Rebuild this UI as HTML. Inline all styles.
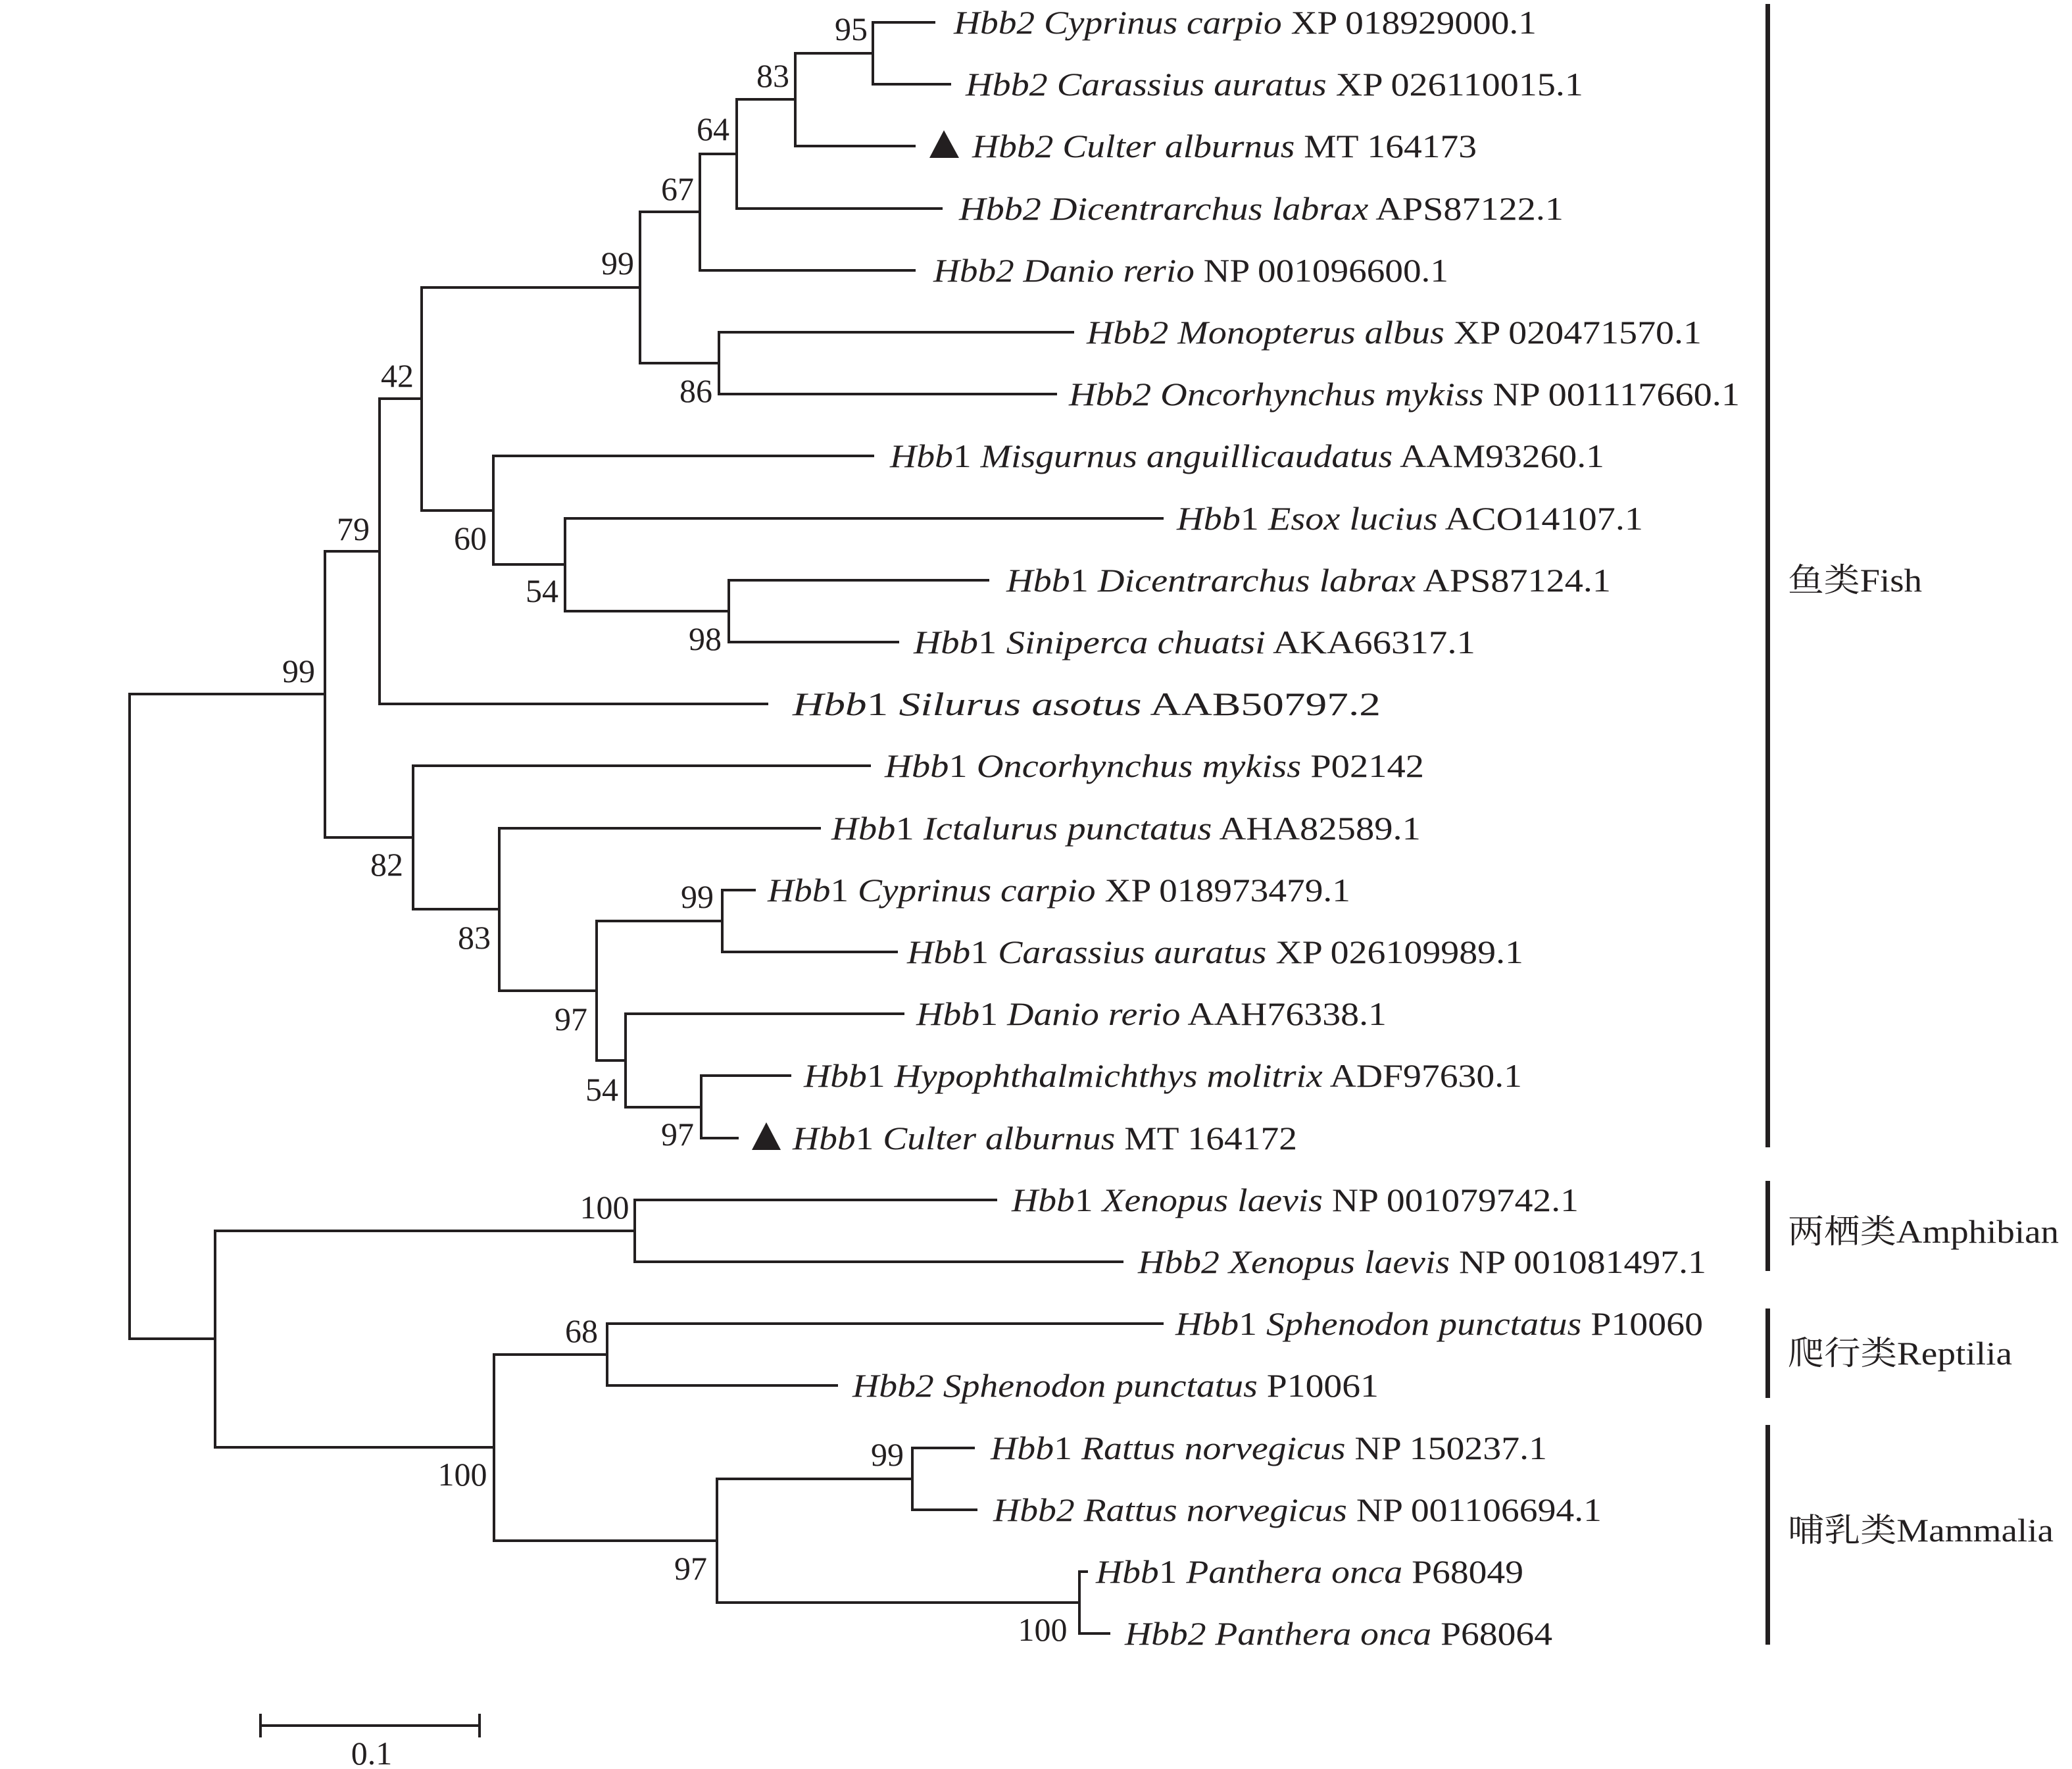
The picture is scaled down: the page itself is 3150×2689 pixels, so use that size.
<!DOCTYPE html>
<html><head><meta charset="utf-8"><style>
html,body{margin:0;padding:0;background:#fff;}
svg{display:block;}
text{font-family:"Liberation Serif","Noto Serif CJK SC",serif;font-size:50px;fill:#231f20;}
.l{font-style:italic;}
.u{font-style:normal;}
</style></head><body>
<svg width="3150" height="2689" viewBox="0 0 3150 2689" xmlns="http://www.w3.org/2000/svg">
<g stroke="#231f20" stroke-width="4" fill="none" stroke-linecap="square">
<path d="
M197 1055V2035 M197 1055H494 M197 2035H327
M494 838V1273 M494 838H577 M494 1273H628
M577 606V1070 M577 606H641 M577 1070H1166
M641 437V776 M641 437H973 M641 776H750
M973 322V552 M973 322H1064 M973 552H1093
M1064 234V411 M1064 234H1120 M1064 411H1390
M1120 151V317 M1120 151H1209 M1120 317H1431
M1209 81V222 M1209 81H1327 M1209 222H1390
M1327 34V128 M1327 34H1420 M1327 128H1444
M1093 505V599 M1093 505H1631 M1093 599H1605
M750 693V858 M750 693H1327 M750 858H859
M859 788V929 M859 788H1767 M859 929H1108
M1108 882V976 M1108 882H1502 M1108 976H1365
M628 1164V1382 M628 1164H1322 M628 1382H759
M759 1259V1506 M759 1259H1246 M759 1506H907
M907 1400V1612 M907 1400H1098 M907 1612H951
M1098 1353V1447 M1098 1353H1147 M1098 1447H1363
M951 1541V1683 M951 1541H1373 M951 1683H1066
M1066 1635V1730 M1066 1635H1201 M1066 1730H1121
M327 1871V2200 M327 1871H965 M327 2200H751
M965 1824V1918 M965 1824H1514 M965 1918H1706
M751 2059V2342 M751 2059H923 M751 2342H1090
M923 2012V2106 M923 2012H1767 M923 2106H1272
M1090 2248V2436 M1090 2248H1387 M1090 2436H1641
M1387 2201V2295 M1387 2201H1480 M1387 2295H1484
M1641 2389V2483 M1641 2389H1652 M1641 2483H1686
M396 2623H729 M396 2607V2639 M729 2607V2639
"/>
</g>
<g fill="#231f20">
<rect x="2684" y="6" width="7" height="1738"/>
<rect x="2684" y="1795" width="7" height="137"/>
<rect x="2684" y="1989" width="7" height="136"/>
<rect x="2684" y="2166" width="7" height="334"/>
<polygon points="1413,240 1458,240 1435,198"/>
<polygon points="1143,1748 1187,1748 1165,1706"/>
</g>
<g>
<text x="1450" y="51" textLength="886" lengthAdjust="spacingAndGlyphs"><tspan class="l">Hbb2 Cyprinus carpio</tspan> XP 018929000.1</text>
<text x="1468" y="145" textLength="939" lengthAdjust="spacingAndGlyphs"><tspan class="l">Hbb2 Carassius auratus</tspan> XP 026110015.1</text>
<text x="1478" y="239" textLength="767" lengthAdjust="spacingAndGlyphs"><tspan class="l">Hbb2 Culter alburnus</tspan> MT 164173</text>
<text x="1458" y="334" textLength="919" lengthAdjust="spacingAndGlyphs"><tspan class="l">Hbb2 Dicentrarchus labrax</tspan> APS87122.1</text>
<text x="1419" y="428" textLength="783" lengthAdjust="spacingAndGlyphs"><tspan class="l">Hbb2 Danio rerio</tspan> NP 001096600.1</text>
<text x="1652" y="522" textLength="935" lengthAdjust="spacingAndGlyphs"><tspan class="l">Hbb2 Monopterus albus</tspan> XP 020471570.1</text>
<text x="1625" y="616" textLength="1020" lengthAdjust="spacingAndGlyphs"><tspan class="l">Hbb2 Oncorhynchus mykiss</tspan> NP 001117660.1</text>
<text x="1353" y="710" textLength="1086" lengthAdjust="spacingAndGlyphs"><tspan class="l">Hbb</tspan>1 <tspan class="l">Misgurnus anguillicaudatus</tspan> AAM93260.1</text>
<text x="1789" y="805" textLength="709" lengthAdjust="spacingAndGlyphs"><tspan class="l">Hbb</tspan>1 <tspan class="l">Esox lucius</tspan> ACO14107.1</text>
<text x="1530" y="899" textLength="919" lengthAdjust="spacingAndGlyphs"><tspan class="l">Hbb</tspan>1 <tspan class="l">Dicentrarchus labrax</tspan> APS87124.1</text>
<text x="1389" y="993" textLength="854" lengthAdjust="spacingAndGlyphs"><tspan class="l">Hbb</tspan>1 <tspan class="l">Siniperca chuatsi</tspan> AKA66317.1</text>
<text x="1205" y="1087" textLength="894" lengthAdjust="spacingAndGlyphs"><tspan class="l">Hbb</tspan>1 <tspan class="l">Silurus asotus</tspan> AAB50797.2</text>
<text x="1345" y="1181" textLength="820" lengthAdjust="spacingAndGlyphs"><tspan class="l">Hbb</tspan>1 <tspan class="l">Oncorhynchus mykiss</tspan> P02142</text>
<text x="1264" y="1276" textLength="896" lengthAdjust="spacingAndGlyphs"><tspan class="l">Hbb</tspan>1 <tspan class="l">Ictalurus punctatus</tspan> AHA82589.1</text>
<text x="1167" y="1370" textLength="886" lengthAdjust="spacingAndGlyphs"><tspan class="l">Hbb</tspan>1 <tspan class="l">Cyprinus carpio</tspan> XP 018973479.1</text>
<text x="1379" y="1464" textLength="937" lengthAdjust="spacingAndGlyphs"><tspan class="l">Hbb</tspan>1 <tspan class="l">Carassius auratus</tspan> XP 026109989.1</text>
<text x="1393" y="1558" textLength="715" lengthAdjust="spacingAndGlyphs"><tspan class="l">Hbb</tspan>1 <tspan class="l">Danio rerio</tspan> AAH76338.1</text>
<text x="1222" y="1652" textLength="1092" lengthAdjust="spacingAndGlyphs"><tspan class="l">Hbb</tspan>1 <tspan class="l">Hypophthalmichthys molitrix</tspan> ADF97630.1</text>
<text x="1205" y="1747" textLength="767" lengthAdjust="spacingAndGlyphs"><tspan class="l">Hbb</tspan>1 <tspan class="l">Culter alburnus</tspan> MT 164172</text>
<text x="1538" y="1841" textLength="862" lengthAdjust="spacingAndGlyphs"><tspan class="l">Hbb</tspan>1 <tspan class="l">Xenopus laevis</tspan> NP 001079742.1</text>
<text x="1730" y="1935" textLength="864" lengthAdjust="spacingAndGlyphs"><tspan class="l">Hbb2 Xenopus laevis</tspan> NP 001081497.1</text>
<text x="1787" y="2029" textLength="802" lengthAdjust="spacingAndGlyphs"><tspan class="l">Hbb</tspan>1 <tspan class="l">Sphenodon punctatus</tspan> P10060</text>
<text x="1296" y="2123" textLength="800" lengthAdjust="spacingAndGlyphs"><tspan class="l">Hbb2 Sphenodon punctatus</tspan> P10061</text>
<text x="1506" y="2218" textLength="846" lengthAdjust="spacingAndGlyphs"><tspan class="l">Hbb</tspan>1 <tspan class="l">Rattus norvegicus</tspan> NP 150237.1</text>
<text x="1510" y="2312" textLength="925" lengthAdjust="spacingAndGlyphs"><tspan class="l">Hbb2 Rattus norvegicus</tspan> NP 001106694.1</text>
<text x="1666" y="2406" textLength="650" lengthAdjust="spacingAndGlyphs"><tspan class="l">Hbb</tspan>1 <tspan class="l">Panthera onca</tspan> P68049</text>
<text x="1710" y="2500" textLength="650" lengthAdjust="spacingAndGlyphs"><tspan class="l">Hbb2 Panthera onca</tspan> P68064</text>
</g>
<g text-anchor="middle">
<text x="1294" y="61">95</text>
<text x="1175" y="132">83</text>
<text x="1084" y="213">64</text>
<text x="1030" y="304">67</text>
<text x="939" y="417">99</text>
<text x="1058" y="611">86</text>
<text x="604" y="588">42</text>
<text x="537" y="821">79</text>
<text x="715" y="835">60</text>
<text x="824" y="915">54</text>
<text x="1072" y="988">98</text>
<text x="454" y="1037">99</text>
<text x="588" y="1331">82</text>
<text x="721" y="1442">83</text>
<text x="868" y="1566">97</text>
<text x="1060" y="1380">99</text>
<text x="915" y="1673">54</text>
<text x="1030" y="1741">97</text>
<text x="919" y="1852">100</text>
<text x="884" y="2040">68</text>
<text x="703" y="2258">100</text>
<text x="1349" y="2228">99</text>
<text x="1050" y="2401">97</text>
<text x="1585" y="2494">100</text>
<text x="565" y="2682">0.1</text>
</g>
<g>
<text x="2718" y="899" textLength="204" lengthAdjust="spacingAndGlyphs">鱼类Fish</text>
<text x="2718" y="1889" textLength="412" lengthAdjust="spacingAndGlyphs">两栖类Amphibian</text>
<text x="2718" y="2074" textLength="341" lengthAdjust="spacingAndGlyphs">爬行类Reptilia</text>
<text x="2718" y="2343" textLength="404" lengthAdjust="spacingAndGlyphs">哺乳类Mammalia</text>
</g>
</svg>
</body></html>
